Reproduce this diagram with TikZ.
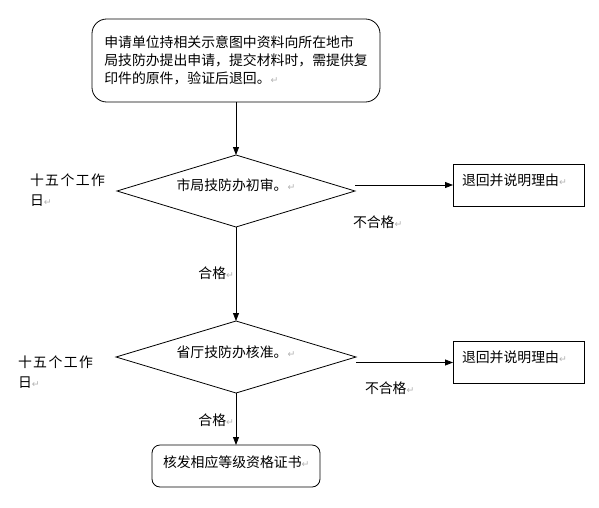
\documentclass[tikz,border=0pt]{standalone}
\usepackage{fontspec}
\setmainfont{Noto Sans CJK SC}
\newfontfamily\symfont{DejaVu Sans}
\newfontfamily\widecjk[LetterSpace=10]{Noto Sans CJK SC}
\usepackage{tikz}
\usetikzlibrary{arrows.meta, shapes.geometric}
\newcommand{\ret}{{\color{gray!60}\symfont\fontsize{7pt}{7pt}\selectfont ↵}}
\tikzset{
  txt/.style      = {font=\fontsize{10.4pt}{13.5pt}\selectfont},
  startbox/.style = {txt, draw, rounded corners=11pt, align=left,
                     minimum width=216pt, minimum height=62.25pt, inner sep=0pt},
  check/.style    = {txt, draw, diamond, aspect=3.3, inner sep=0pt,
                     minimum width=178.5pt, minimum height=54pt},
  backbox/.style  = {txt, draw, align=left, text width=84.75pt, inner xsep=6.75pt,
                     inner ysep=0pt, text height=16pt, text depth=15.5pt},
  endbox/.style   = {txt, draw, rounded corners=6pt, align=left, text width=109.5pt,
                     inner xsep=8.25pt, inner ysep=0pt, text height=16.7pt, text depth=14.8pt},
  note/.style     = {txt, inner sep=0pt},
  days/.style     = {font=\widecjk\fontsize{10.4pt}{15pt}\selectfont, align=left,
                     inner sep=0pt, anchor=west},
  fl/.style       = {-{Triangle[length=6pt, width=4.5pt]}, line width=0.6pt},
}
\begin{document}
\begin{tikzpicture}[x=0.75pt, y=-0.75pt, line width=0.6pt, outer sep=0pt]
  \useasboundingbox (0,0) rectangle (599,507);
  \node[startbox] (apply) at (236,60.5)
    {申请单位持相关示意图中资料向所在地市\\局技防办提出申请，提交材料时，需提供复\\印件的原件，验证后退回。\ret};
  \node[check] (check1) at (236,191) {\raisebox{4.5pt}[\height][\depth]{市局技防办初审。\ret}};
  \node[backbox] (back1) at (518.5,185) {退回并说明理由\ret};
  \node[check, minimum width=180pt] (check2) at (236,357) {\raisebox{3.75pt}[\height][\depth]{省厅技防办核准。\ret}};
  \node[backbox] (back2) at (518.5,362.5) {退回并说明理由\ret};
  \node[endbox] (issue) at (236,466) {核发相应等级资格证书\ret};
  \node[days] (days1) at (30,190) {十五个工作\\日\ret};
  \node[days] (days2) at (18,372) {十五个工作\\日\ret};
  \node[note, anchor=west] (fail1) at (353,222) {不合格\ret};
  \node[note, anchor=west] (fail2) at (365,388) {不合格\ret};
  \draw[fl] (apply) -- (check1);
  \draw[fl] (check1.east |- back1.west) -- (back1.west);
  \draw[fl] (check1.south) -- node[note, anchor=east, pos=0.49, xshift=-1.5pt] (pass1) {合格\ret} (check2.north);
  \draw[fl] (check2.east |- back2.west) -- (back2.west);
  \draw[fl] (check2.south) -- node[note, anchor=east, pos=0.52, xshift=-1.5pt] (pass2) {合格\ret} (issue.north);
\end{tikzpicture}
\end{document}
